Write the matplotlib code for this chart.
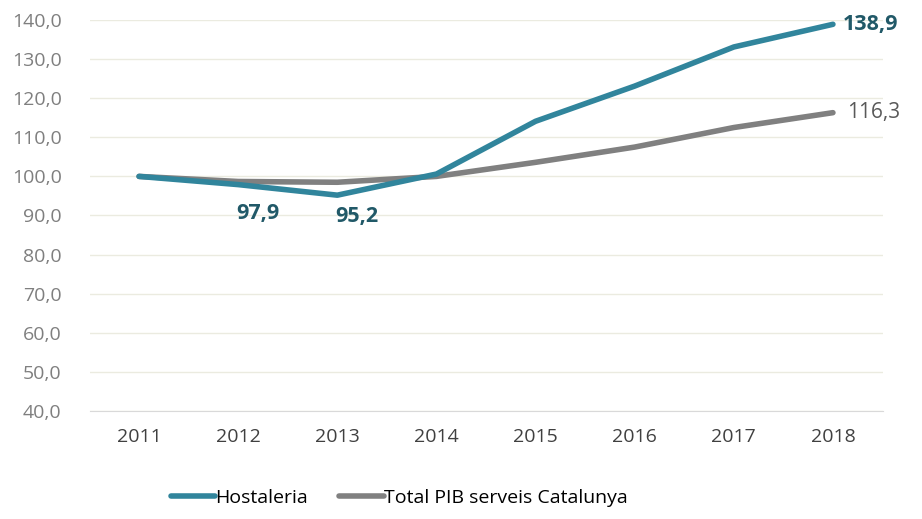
import matplotlib
matplotlib.use("Agg")
import matplotlib.pyplot as plt

years = ["2011", "2012", "2013", "2014", "2015", "2016", "2017", "2018"]
hostaleria = [100.0, 97.9, 95.2, 100.6, 114.1, 123.1, 133.1, 138.9]
total_pib = [100.0, 98.7, 98.5, 100.0, 103.6, 107.5, 112.5, 116.3]

BLUE = "#31859C"
BLUE_DARK = "#215968"
GRAY = "#808080"
GRID = "#EBEBE0"

plt.rcParams["font.family"] = ["Open Sans", "DejaVu Sans"]

fig = plt.figure(figsize=(9.22, 5.19), dpi=100)
ax = fig.add_axes([89.5 / 922, 108 / 519, 793 / 922, 391 / 519])

x = range(len(years))
ax.plot(x, hostaleria, color=BLUE, linewidth=4, solid_capstyle="round", label="Hostaleria", zorder=3)
ax.plot(x, total_pib, color=GRAY, linewidth=4, solid_capstyle="round", label="Total PIB serveis Catalunya", zorder=2)

ax.set_xlim(-0.5, len(years) - 0.5)
ax.set_ylim(40, 140)
ax.set_yticks(range(40, 141, 10))
ax.set_yticklabels([f"{v},0" for v in range(40, 141, 10)])
ax.set_xticks(list(x))
ax.set_xticklabels(years)
ax.tick_params(axis="y", length=0, labelsize=14, labelcolor="#7F7F7F", pad=20)
ax.tick_params(axis="x", length=0, labelsize=14, labelcolor="#404040", pad=12)
ax.grid(axis="y", color=GRID, linewidth=1)
ax.set_axisbelow(True)
for s in ["top", "right", "left"]:
    ax.spines[s].set_visible(False)
ax.spines["bottom"].set_color("#D9D9D9")

def fmt(v):
    return f"{v:.1f}".replace(".", ",")

ax.annotate(fmt(hostaleria[1]), (1, hostaleria[1]), xytext=(14, -21), textcoords="offset points",
            ha="center", va="center", fontsize=15.5, fontweight="bold", color=BLUE_DARK)
ax.annotate(fmt(hostaleria[2]), (2, hostaleria[2]), xytext=(14, -15), textcoords="offset points",
            ha="center", va="center", fontsize=15.5, fontweight="bold", color=BLUE_DARK)
ax.annotate(fmt(hostaleria[7]), (7, hostaleria[7]), xytext=(7, 0), textcoords="offset points",
            ha="left", va="center", fontsize=15.5, fontweight="bold", color=BLUE_DARK)
ax.annotate(fmt(total_pib[7]), (7, total_pib[7]), xytext=(10, 0), textcoords="offset points",
            ha="left", va="center", fontsize=15, color="#595959")

fig.legend(loc="center", bbox_to_anchor=(0.433, 1 - 498 / 519), ncol=2, frameon=False,
           fontsize=14, handlelength=2.3, handletextpad=0.0, columnspacing=1.6)

fig.savefig("out.png")
